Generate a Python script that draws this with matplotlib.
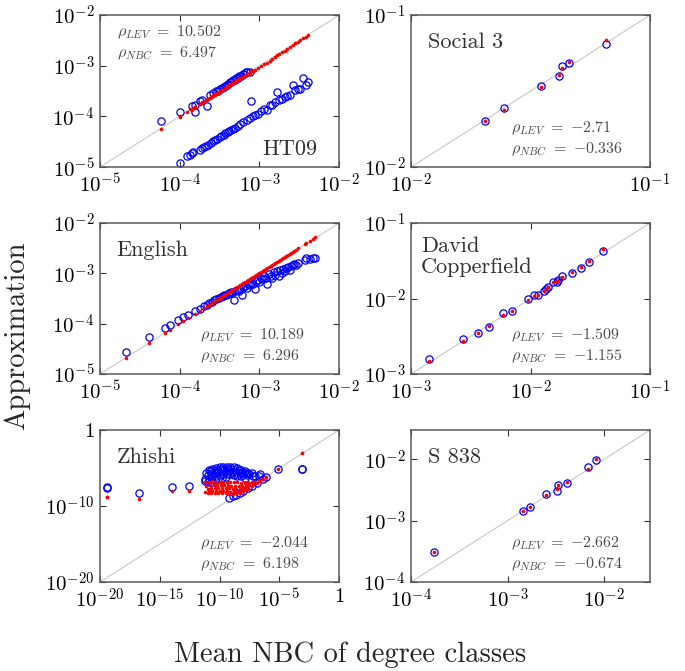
import numpy as np
import matplotlib
matplotlib.use("Agg")
import matplotlib.pyplot as plt
from matplotlib.ticker import NullLocator

plt.rcParams['font.family'] = 'serif'
plt.rcParams['font.serif'] = ['cmr10']
plt.rcParams['mathtext.fontset'] = 'cm'
plt.rcParams['axes.formatter.use_mathtext'] = True

# ---------- data (log10 values) ----------
# x = mean NBC of degree class, lev = blue circles, nbc = red dots

# HT09: classes near the diagonal, then the classes whose LEV value falls below
ht09_x = [-4.24, -4.00, -3.85, -3.81, -3.81, -3.75, -3.72, -3.66, -3.62, -3.58,
          -3.55, -3.52, -3.50, -3.47, -3.45, -3.43, -3.41, -3.39, -3.37, -3.35,
          -3.33, -3.31, -3.29, -3.27, -3.25, -3.23, -3.21, -3.19, -3.17, -3.15,
          -3.12, -3.10,
          -4.00, -3.91, -3.87, -3.84, -3.83, -3.75, -3.72, -3.70, -3.67, -3.64,
          -3.61, -3.58, -3.56, -3.53, -3.50, -3.48, -3.45, -3.43, -3.40, -3.38,
          -3.35, -3.33, -3.30, -3.27, -3.24, -3.20, -3.16, -3.12, -3.08, -3.05,
          -3.02, -2.98, -2.94, -2.91, -2.87, -2.84, -2.80, -2.78, -2.75, -2.72,
          -2.68, -2.65, -2.62, -2.58, -2.55, -2.52, -2.49, -2.45, -2.42, -2.39]
ht09_lev = [-4.10, -3.91, -3.80, -3.91, -3.78, -3.70, -3.68, -3.79, -3.58, -3.53,
            -3.50, -3.49, -3.45, -3.44, -3.41, -3.40, -3.37, -3.36, -3.33, -3.32,
            -3.29, -3.28, -3.25, -3.25, -3.21, -3.20, -3.17, -3.16, -3.13, -3.12,
            -3.12, -3.70,
            -4.92, -4.78, -4.76, -4.73, -4.70, -4.66, -4.63, -4.60, -4.58, -4.56,
            -4.52, -4.48, -4.47, -4.44, -4.41, -4.39, -4.36, -4.33, -4.31, -4.29,
            -4.27, -4.24, -4.22, -4.19, -4.15, -4.11, -4.08, -4.04, -4.00, -3.97,
            -3.96, -3.90, -3.86, -3.88, -3.78, -3.77, -3.71, -3.52, -3.67, -3.65,
            -3.62, -3.60, -3.58, -3.38, -3.48, -3.45, -3.45, -3.25, -3.37, -3.32]
ht09_nbc = [-4.24, -4.00, -3.87, -3.82, -3.82, -3.76, -3.72, -3.67, -3.63, -3.59,
            -3.56, -3.53, -3.51, -3.48, -3.46, -3.44, -3.42, -3.40, -3.38, -3.36,
            -3.34, -3.32, -3.30, -3.28, -3.26, -3.24, -3.22, -3.20, -3.18, -3.16,
            -3.13, -3.11,
            -4.01, -3.92, -3.86, -3.85, -3.84, -3.75, -3.73, -3.71, -3.67, -3.65,
            -3.62, -3.58, -3.57, -3.54, -3.51, -3.48, -3.46, -3.44, -3.41, -3.38,
            -3.36, -3.34, -3.31, -3.28, -3.25, -3.21, -3.17, -3.14, -3.10, -3.08,
            -3.04, -3.00, -2.96, -2.95, -2.90, -2.86, -2.82, -2.79, -2.77, -2.73,
            -2.70, -2.66, -2.63, -2.60, -2.56, -2.53, -2.50, -2.46, -2.43, -2.39]

social3_x = [-1.689, -1.609, -1.455, -1.381, -1.370, -1.339, -1.183]
social3_lev = [-1.699, -1.611, -1.468, -1.404, -1.332, -1.314, -1.187]
social3_nbc = [-1.694, -1.626, -1.475, -1.396, -1.347, -1.308, -1.167]

english_x = [-4.68, -4.38, -4.19, -4.12, -4.02, -3.96, -3.89, -3.81, -3.75, -3.70,
             -3.66, -3.63, -3.60, -3.57, -3.54, -3.51, -3.48, -3.46, -3.44, -3.42,
             -3.40, -3.38, -3.36, -3.34, -3.32, -3.30, -3.28, -3.26, -3.24, -3.22,
             -3.20, -3.18, -3.16, -3.14, -3.12, -3.10, -3.08, -3.06, -3.04, -3.02,
             -3.00, -2.98, -2.96, -2.94, -2.92, -2.90, -2.88, -2.86, -2.84, -2.82,
             -2.80, -2.78, -2.76, -2.74, -2.72, -2.70, -2.68, -2.66, -2.64, -2.62,
             -2.60, -2.58, -2.56, -2.54, -2.52, -2.43, -2.41, -2.36, -2.33, -2.30]
english_lev = [-4.56, -4.27, -4.09, -4.03, -3.92, -3.87, -3.83, -3.75, -3.70, -3.65,
               -3.62, -3.58, -3.56, -3.53, -3.50, -3.49, -3.46, -3.45, -3.42, -3.43,
               -3.41, -3.40, -3.37, -3.40, -3.52, -3.36, -3.33, -3.35, -3.31, -3.42,
               -3.28, -3.26, -3.30, -3.22, -3.24, -3.20, -3.21, -3.32, -3.16, -3.14,
               -3.18, -3.10, -3.12, -3.06, -3.10, -3.22, -3.02, -3.05, -3.10, -2.98,
               -3.04, -2.96, -3.06, -2.94, -3.00, -2.92, -2.96, -2.90, -2.88, -2.93,
               -2.86, -2.84, -2.82, -2.84, -2.80, -2.74, -2.70, -2.71, -2.69, -2.70]
english_nbc = [-4.68, -4.38, -4.19, -4.12, -4.00, -3.95, -3.88, -3.80, -3.74, -3.69,
               -3.65, -3.62, -3.59, -3.56, -3.53, -3.50, -3.47, -3.45, -3.43, -3.41,
               -3.39, -3.37, -3.35, -3.33, -3.31, -3.29, -3.27, -3.25, -3.23, -3.21,
               -3.19, -3.17, -3.15, -3.13, -3.11, -3.09, -3.07, -3.05, -3.03, -3.01,
               -2.99, -2.97, -2.95, -2.93, -2.91, -2.89, -2.87, -2.85, -2.83, -2.81,
               -2.79, -2.77, -2.75, -2.73, -2.71, -2.69, -2.67, -2.65, -2.63, -2.61,
               -2.59, -2.57, -2.55, -2.53, -2.50, -2.42, -2.39, -2.35, -2.31, -2.28]

david_x = [-2.847, -2.562, -2.437, -2.344, -2.227, -2.158, -2.024, -1.968, -1.940, -1.887,
           -1.873, -1.856, -1.815, -1.780, -1.767, -1.739, -1.656, -1.577, -1.508, -1.390]
david_lev = [-2.800, -2.536, -2.461, -2.382, -2.196, -2.166, -2.002, -1.958, -1.949, -1.896,
             -1.870, -1.848, -1.777, -1.777, -1.759, -1.706, -1.662, -1.596, -1.517, -1.375]
david_nbc = [-2.832, -2.558, -2.452, -2.364, -2.219, -2.161, -2.015, -1.960, -1.952, -1.900,
             -1.880, -1.852, -1.785, -1.772, -1.762, -1.715, -1.650, -1.578, -1.499, -1.344]

zhishi_x = [-19.44, -19.44, -16.71, -14.01, -12.59,
            -11.2, -10.9, -10.6, -10.3, -10.0, -9.7, -9.4, -9.1, -8.8, -8.5, -8.2, -7.9, -7.6, -7.3,
            -11.1, -10.8, -10.5, -10.2, -9.9, -9.6, -9.3, -9.0, -8.7, -8.4, -8.1, -7.8, -7.5, -7.2,
            -11.0, -10.7, -10.4, -10.1, -9.8, -9.5, -9.2, -8.9, -8.6, -8.3, -8.0, -7.7, -7.0, -6.7,
            -11.2, -10.9, -10.6, -10.3, -10.0, -9.7, -9.4, -9.1, -8.8, -8.5, -8.2, -7.9, -6.4, -6.1,
            -11.0, -10.7, -10.4, -10.1, -9.8, -9.5, -9.2, -8.9, -8.6, -8.3, -8.0, -7.6, -7.3, -6.9,
            -6.6, -5.13, -3.06, -3.06]
zhishi_lev = [-7.57, -7.45, -8.23, -7.48, -7.31,
              -6.4, -5.3, -5.1, -4.95, -4.9, -4.85, -4.8, -4.85, -4.9, -5.0, -5.2, -5.4, -5.6, -5.7,
              -5.6, -5.4, -5.3, -5.2, -5.15, -5.1, -5.1, -5.15, -5.2, -5.3, -5.5, -5.7, -5.8, -6.0,
              -5.9, -5.8, -5.6, -5.5, -5.45, -5.4, -5.45, -5.5, -5.6, -5.7, -5.8, -5.9, -6.0, -6.1,
              -6.7, -6.5, -6.2, -6.0, -5.9, -5.8, -5.75, -5.8, -5.9, -6.0, -6.1, -6.3, -6.4, -6.15,
              -6.9, -6.8, -6.6, -6.5, -6.3, -6.2, -8.95, -8.7, -8.5, -8.25, -8.0, -7.6, -7.3, -6.95,
              -5.75, -5.13, -5.10, -5.16]
zhishi_nbc = [-8.75, -8.75, -9.02, -8.01, -8.01,
              -6.9, -6.8, -6.75, -6.8, -6.85, -6.8, -6.8, -6.85, -6.9, -6.9, -6.95, -7.0, -6.9, -6.8,
              -7.3, -7.25, -7.2, -7.2, -7.25, -7.2, -7.25, -7.3, -7.3, -7.35, -7.3, -7.3, -7.2, -7.0,
              -7.7, -7.65, -7.6, -7.6, -7.65, -7.6, -7.65, -7.7, -7.7, -7.75, -7.6, -7.5, -6.9, -6.6,
              -8.1, -8.0, -8.05, -8.0, -8.05, -8.0, -8.05, -8.1, -8.05, -8.1, -8.0, -7.95, -6.5, -6.2,
              -8.3, -8.3, -8.25, -8.3, -8.3, -8.25, -8.35, -8.4, -8.3, -8.25, -8.05, -7.7, -7.4, -7.0,
              -6.65, -5.10, -2.98, -2.98]

s838_x = [-3.762, -2.841, -2.766, -2.600, -2.486, -2.472, -2.383, -2.166, -2.083]
s838_lev = [-3.512, -2.835, -2.775, -2.569, -2.521, -2.423, -2.380, -2.130, -2.011]
s838_nbc = [-3.512, -2.845, -2.780, -2.577, -2.477, -2.413, -2.370, -2.150, -2.001]

# ---------- panel settings ----------
panels = [
    dict(name="HT09", x=ht09_x, lev=ht09_lev, nbc=ht09_nbc, lim=(1e-5, 1e-2),
         xt=[1e-5, 1e-4, 1e-3, 1e-2], xl=[r'$10^{-5}$', r'$10^{-4}$', r'$10^{-3}$', r'$10^{-2}$'],
         yt=[1e-5, 1e-4, 1e-3, 1e-2], yl=[r'$10^{-5}$', r'$10^{-4}$', r'$10^{-3}$', r'$10^{-2}$'],
         rho=("10.502", "6.497"), pos=[0.146, 0.751, 0.349, 0.2265]),
    dict(name="Social 3", x=social3_x, lev=social3_lev, nbc=social3_nbc, lim=(1e-2, 1e-1),
         xt=[1e-2, 1e-1], xl=[r'$10^{-2}$', r'$10^{-1}$'],
         yt=[1e-2, 1e-1], yl=[r'$10^{-2}$', r'$10^{-1}$'],
         rho=("-2.71", "-0.336"), pos=[0.600, 0.751, 0.349, 0.2265]),
    dict(name="English", x=english_x, lev=english_lev, nbc=english_nbc, lim=(1e-5, 1e-2),
         xt=[1e-5, 1e-4, 1e-3, 1e-2], xl=[r'$10^{-5}$', r'$10^{-4}$', r'$10^{-3}$', r'$10^{-2}$'],
         yt=[1e-5, 1e-4, 1e-3, 1e-2], yl=[r'$10^{-5}$', r'$10^{-4}$', r'$10^{-3}$', r'$10^{-2}$'],
         rho=("10.189", "6.296"), pos=[0.146, 0.4426, 0.349, 0.225]),
    dict(name="David\nCopperfield", x=david_x, lev=david_lev, nbc=david_nbc, lim=(1e-3, 1e-1),
         xt=[1e-3, 1e-2, 1e-1], xl=[r'$10^{-3}$', r'$10^{-2}$', r'$10^{-1}$'],
         yt=[1e-3, 1e-2, 1e-1], yl=[r'$10^{-3}$', r'$10^{-2}$', r'$10^{-1}$'],
         rho=("-1.509", "-1.155"), pos=[0.600, 0.4426, 0.349, 0.225]),
    dict(name="Zhishi", x=zhishi_x, lev=zhishi_lev, nbc=zhishi_nbc, lim=(1e-20, 1),
         xt=[1e-20, 1e-15, 1e-10, 1e-5, 1], xl=[r'$10^{-20}$', r'$10^{-15}$', r'$10^{-10}$', r'$10^{-5}$', r'$1$'],
         yt=[1e-20, 1e-10, 1], yl=[r'$10^{-20}$', r'$10^{-10}$', r'$1$'],
         rho=("-2.044", "6.198"), pos=[0.146, 0.1326, 0.349, 0.2265]),
    dict(name="S 838", x=s838_x, lev=s838_lev, nbc=s838_nbc, lim=(1e-4, 3e-2),
         xt=[1e-4, 1e-3, 1e-2], xl=[r'$10^{-4}$', r'$10^{-3}$', r'$10^{-2}$'],
         yt=[1e-4, 1e-3, 1e-2], yl=[r'$10^{-4}$', r'$10^{-3}$', r'$10^{-2}$'],
         rho=("-2.662", "-0.674"), pos=[0.600, 0.1326, 0.349, 0.2265]),
]

fig = plt.figure(figsize=(6.85, 6.71), dpi=100)

for i, p in enumerate(panels):
    ax = fig.add_axes(p["pos"])
    lo, hi = p["lim"]
    ax.plot([lo, hi], [lo, hi], color="#c8c8c8", lw=0.8, zorder=1)
    x = np.power(10.0, p["x"])
    ax.plot(x, np.power(10.0, p["lev"]), 'o', mfc='none', mec='blue', ms=5.2, mew=0.9, zorder=2)
    ax.plot(x, np.power(10.0, p["nbc"]), 'o', color='red', mec='none', ms=2.6, zorder=3)
    ax.set_xscale('log')
    ax.set_yscale('log')
    ax.set_xlim(lo, hi)
    ax.set_ylim(lo, hi)
    ax.set_xticks(p["xt"])
    ax.set_xticklabels(p["xl"])
    ax.set_yticks(p["yt"])
    ax.set_yticklabels(p["yl"])
    ax.xaxis.set_minor_locator(NullLocator())
    ax.yaxis.set_minor_locator(NullLocator())
    ax.tick_params(direction='in', top=True, right=True, length=4, width=0.8,
                   labelsize=15, pad=4, color='#333333')
    for s in ax.spines.values():
        s.set_color('#5a5a5a')
        s.set_linewidth(1.1)

    t1 = r'$\rho_{LEV}\ =\ {%s}$' % p["rho"][0]
    t2 = r'$\rho_{NBC}\ =\ {%s}$' % p["rho"][1]
    if i == 0:
        ax.text(0.07, 0.89, t1, transform=ax.transAxes, fontsize=11.5, color='#4d4d4d', va='center')
        ax.text(0.07, 0.75, t2, transform=ax.transAxes, fontsize=11.5, color='#4d4d4d', va='center')
        ax.text(0.908, 0.08, p["name"], transform=ax.transAxes, fontsize=16,
                color='#333333', ha='right', va='baseline')
    else:
        ax.text(0.42, 0.255, t1, transform=ax.transAxes, fontsize=11.5, color='#4d4d4d', va='center')
        ax.text(0.42, 0.115, t2, transform=ax.transAxes, fontsize=11.5, color='#4d4d4d', va='center')
        lx = 0.042 if "David" in p["name"] else 0.07
        ty = 0.91 if "David" in p["name"] else 0.885
        ax.text(lx, ty, p["name"], transform=ax.transAxes, fontsize=16,
                color='#333333', ha='left', va='top', linespacing=1.1)

fig.text(0.025, 0.5, "Approximation", rotation=90, fontsize=20.5,
         color='#262626', ha='center', va='center')
fig.text(0.511, 0.024, "Mean NBC of degree classes", fontsize=20.5,
         color='#262626', ha='center', va='center')

fig.savefig("out.png", dpi=100)
